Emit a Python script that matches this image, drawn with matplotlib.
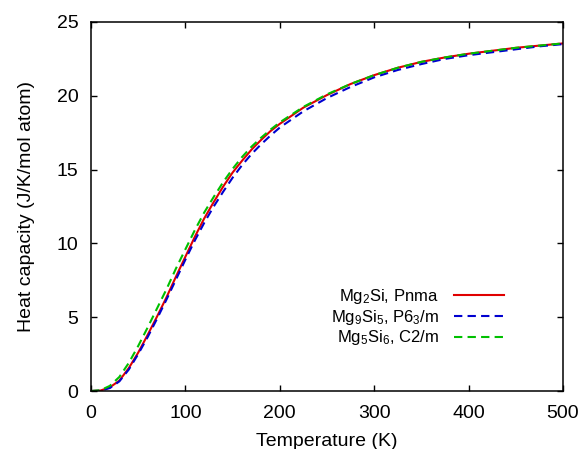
import numpy as np
import matplotlib
matplotlib.use("Agg")
import matplotlib.pyplot as plt

plt.rcParams['font.family'] = ['Liberation Sans', 'DejaVu Sans']
plt.rcParams['mathtext.fontset'] = 'custom'
plt.rcParams['mathtext.rm'] = 'Liberation Sans'
plt.rcParams['mathtext.it'] = 'Liberation Sans'

# temperature grid (K)
temp = [0, 10, 20, 30, 40, 50, 60, 70, 80, 90, 100, 110, 120, 130, 140, 150,
        160, 170, 180, 190, 200, 225, 250, 275, 300, 325, 350, 375, 400,
        425, 450, 475, 500]

# heat capacity (J/K/mol atom)
cp_mg2si = [0, 0.03, 0.25, 0.7, 1.55, 2.6, 3.8, 5.05, 6.35, 7.75, 9.1, 10.45,
            11.7, 12.8, 13.85, 14.8, 15.6, 16.35, 17.0, 17.6, 18.1, 19.2, 20.05,
            20.8, 21.4, 21.9, 22.3, 22.6, 22.85, 23.05, 23.25, 23.4, 23.55]
cp_mg9si5 = [0, 0.02, 0.2, 0.65, 1.45, 2.5, 3.65, 4.9, 6.2, 7.55, 8.9, 10.2,
             11.4, 12.5, 13.5, 14.45, 15.3, 16.05, 16.7, 17.3, 17.85, 18.95,
             19.85, 20.6, 21.25, 21.75, 22.15, 22.5, 22.75, 22.95, 23.15, 23.35, 23.5]
cp_mg5si6 = [0, 0.05, 0.35, 0.95, 1.9, 3.05, 4.3, 5.6, 6.9, 8.3, 9.6, 10.9,
             12.1, 13.15, 14.15, 15.05, 15.85, 16.55, 17.15, 17.7, 18.2, 19.25,
             20.1, 20.8, 21.4, 21.9, 22.3, 22.6, 22.85, 23.05, 23.25, 23.4, 23.55]

labels = [r'Mg$_2$Si, Pnma', r'Mg$_9$Si$_5$, P6$_3$/m', r'Mg$_5$Si$_6$, C2/m']

fig = plt.figure(figsize=(5.82, 4.49), dpi=100)
ax = fig.add_axes([91/582, 1 - 391/449, (563 - 91)/582, (391 - 22)/449])

ax.plot(temp, cp_mg2si, color='#e00000', lw=1.5, label=labels[0])
ax.plot(temp, cp_mg9si5, color='#0000d0', lw=1.5, ls=(0, (4, 2.5)), label=labels[1])
ax.plot(temp, cp_mg5si6, color='#00c000', lw=1.5, ls=(0, (4, 2.5)), label=labels[2])

ax.set_xlim(0, 500)
ax.set_ylim(0, 25)
ax.set_xticks([0, 100, 200, 300, 400, 500])
ax.set_yticks([0, 5, 10, 15, 20, 25])
ax.tick_params(direction='in', length=4, width=1, top=True, right=True,
               labelsize=14)
ax.tick_params(axis='x', pad=10)
ax.tick_params(axis='y', pad=9)
for s in ax.spines.values():
    s.set_linewidth(1.1)

ax.set_xlabel('Temperature (K)', fontsize=14, labelpad=8)
ax.set_ylabel('Heat capacity (J/K/mol atom)', fontsize=14, labelpad=16)

ax.legend(loc='center right', bbox_to_anchor=(0.875, 0.2), frameon=False,
          markerfirst=False, fontsize=12, handlelength=3.0, handletextpad=0.9,
          labelspacing=0.1, borderpad=0, borderaxespad=0)

fig.savefig('out.png', dpi=100)
